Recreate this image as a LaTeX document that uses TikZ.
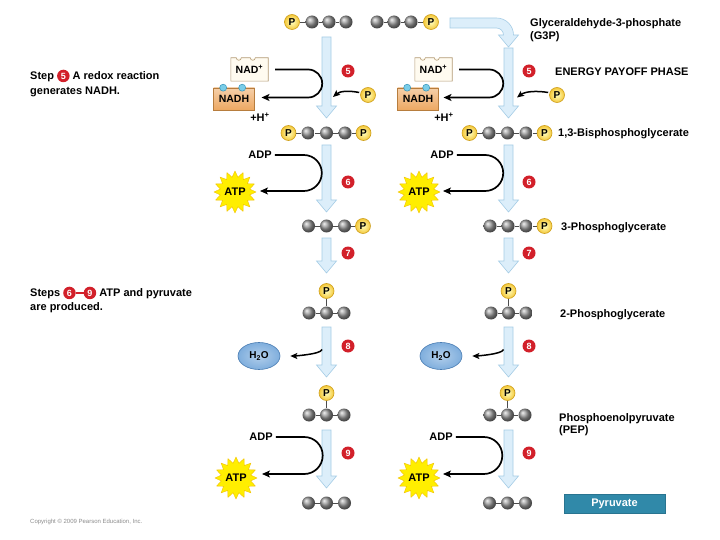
\documentclass[tikz,border=0pt]{standalone}
\usepackage{fontspec}
\setmainfont{Liberation Sans}
\usetikzlibrary{shapes.geometric,arrows.meta,calc}
\definecolor{stepred}{HTML}{D2202A}
\definecolor{arrfill}{HTML}{DCEEFA}
\definecolor{arredge}{HTML}{A6CDE6}
\definecolor{pyellow}{HTML}{F4C83A}
\definecolor{pedge}{HTML}{CFA01C}
\definecolor{nadfill}{HTML}{FFFBF0}
\definecolor{nadline}{HTML}{B39A74}
\definecolor{nadhfill}{HTML}{EDA862}
\definecolor{nadhline}{HTML}{B77D3E}
\definecolor{dotfill}{HTML}{7ACDE8}
\definecolor{dotline}{HTML}{3795BA}
\definecolor{h2ofill}{HTML}{7FAEDD}
\definecolor{h2oline}{HTML}{4A7DB3}
\definecolor{pyrfill}{HTML}{3089A9}
\definecolor{starfill}{HTML}{FFEE00}
\definecolor{starline}{HTML}{F2C200}
\newcommand\fsz[1]{\fontsize{#1}{#1}\selectfont\bfseries}
\newcommand\stepc[1]{\tikz[baseline=(sc.base)]\node[circle,fill=stepred,inner sep=0pt,minimum size=12.5pt,text=white,font=\fsz{9}] (sc) {#1};}
\tikzset{
  cball/.style={circle,inner sep=0pt,minimum size=13pt,ball color=black!40},
  phos/.style={circle,inner sep=0pt,minimum size=15pt,draw=pedge,line width=0.6pt,inner color=yellow!25!white,outer color=pyellow,font=\fsz{10}},
  bond/.style={draw=black!70,line width=0.8pt},
  stepnum/.style={circle,fill=stepred,inner sep=0pt,minimum size=13pt,text=white,font=\fsz{9}},
  lbl/.style={inner sep=0pt,font=\fsz{11}},
  rxn/.style={line width=1.7pt,-{Stealth[length=8pt,width=7pt,inset=2pt]}},
  side/.style={line width=1.5pt,-{Stealth[length=7pt,width=6pt,inset=1.5pt]}},
  nadbox/.style={rectangle,minimum width=37pt,minimum height=23pt,inner sep=0pt,fill=nadfill,font=\fsz{10.5}},
  nadhbox/.style={rectangle,minimum width=41pt,minimum height=22pt,inner sep=0pt,draw=nadhline,line width=0.6pt,top color=nadhfill!55!white,bottom color=nadhfill,font=\fsz{10.5}},
  nadhdot/.style={circle,inner sep=0pt,minimum size=7pt,draw=dotline,fill=dotfill,line width=0.5pt},
  atpstar/.style={star,star points=16,star point ratio=1.4,minimum size=35pt,inner sep=0pt,fill=starfill,draw=starline,line width=0.4pt,font=\fsz{11}},
  h2o/.style={ellipse,minimum width=42pt,minimum height=27pt,inner sep=0pt,draw=h2oline,line width=0.6pt,inner color=h2ofill!60!white,outer color=h2ofill,font=\fsz{10}},
  bigarrow/.style={fill=arrfill,draw=arredge,line width=0.6pt},
}
\newcommand\bigarr[2]{\path[bigarrow] ($(#1)+(-4.5,0)$) -- ($(#2)+(-4.5,-12)$) -- ($(#2)+(-10,-12)$) -- (#2) -- ($(#2)+(10,-12)$) -- ($(#2)+(4.5,-12)$) -- ($(#1)+(4.5,0)$) -- cycle;}
\newcommand\nadoutline[1]{\draw[nadline,line width=0.6pt] (#1.south west) -- (#1.north west) -- ($(#1.north west)+(5.5,0)$) arc[start angle=180,end angle=360,radius=2.5pt] -- ($(#1.north west)+(19.5,0)$) arc[start angle=180,end angle=360,radius=2.5pt] -- (#1.north east) -- (#1.south east) -- cycle;}
% molecules
\newcommand\molPBBBP[3]{%
  \node[phos] (#1a) at (#2-38,#3) {P};
  \node[cball] (#1b) at (#2-18.5,#3) {};
  \node[cball] (#1c) at (#2,#3) {};
  \node[cball] (#1d) at (#2+18.5,#3) {};
  \node[phos] (#1e) at (#2+37,#3) {P};
  \draw[bond] (#1a) -- (#1b) -- (#1c) -- (#1d) -- (#1e);}
\newcommand\molBBBP[3]{%
  \node[cball] (#1b) at (#2-18,#3) {};
  \node[cball] (#1c) at (#2,#3) {};
  \node[cball] (#1d) at (#2+18,#3) {};
  \node[phos] (#1e) at (#2+36.5,#3) {P};
  \draw[bond] (#1b) -- (#1c) -- (#1d) -- (#1e);}
\newcommand\molTP[3]{%
  \node[phos] (#1a) at (#2,#3) {P};
  \node[cball] (#1b) at (#2-17.5,#3+22) {};
  \node[cball] (#1c) at (#2,#3+22) {};
  \node[cball] (#1d) at (#2+17.5,#3+22) {};
  \draw[bond] (#1a) -- (#1c);
  \draw[bond] (#1b) -- (#1c) -- (#1d);}
\newcommand\molBBB[3]{%
  \node[cball] (#1b) at (#2-18,#3) {};
  \node[cball] (#1c) at (#2,#3) {};
  \node[cball] (#1d) at (#2+18,#3) {};
  \draw[bond] (#1b) -- (#1c) -- (#1d);}
\begin{document}
\begin{tikzpicture}[x=1pt,y=-1pt]
\useasboundingbox (0,0) rectangle (720,540);
\fill[white] (0,0) rectangle (720,540);

% ---------- big process arrows ----------
\foreach \c/\xc in {L/326.5,R/508.5}{
  \coordinate (a6\c s) at (\xc,145); \coordinate (a6\c t) at (\xc,212);
  \coordinate (a7\c s) at (\xc,238); \coordinate (a7\c t) at (\xc,273);
  \coordinate (a8\c s) at (\xc,327); \coordinate (a8\c t) at (\xc,377);
  \coordinate (a9\c s) at (\xc,430); \coordinate (a9\c t) at (\xc,488);
}
\coordinate (a5Ls) at (326.5,37); \coordinate (a5Lt) at (326.5,118);
\coordinate (a5Rs) at (508.5,48); \coordinate (a5Rt) at (508.5,118);
\bigarr{a5Ls}{a5Lt} \bigarr{a5Rs}{a5Rt}
\bigarr{a6Ls}{a6Lt} \bigarr{a6Rs}{a6Rt}
\bigarr{a7Ls}{a7Lt} \bigarr{a7Rs}{a7Rt}
\bigarr{a8Ls}{a8Lt} \bigarr{a8Rs}{a8Rt}
\bigarr{a9Ls}{a9Lt} \bigarr{a9Rs}{a9Rt}
% bent arrow from G3P
\path[bigarrow] (450,18) -- (496.5,18) arc[start angle=90,end angle=0,radius=17pt] -- (518.5,35) -- (508.5,47) -- (498.5,35) -- (503.5,35) arc[start angle=0,end angle=90,radius=7pt] -- (450,28) -- cycle;

% ---------- molecules ----------
\node[phos] (g0La) at (292,22) {P};
\node[cball] (g0Lb) at (312,22) {};
\node[cball] (g0Lc) at (329,22) {};
\node[cball] (g0Ld) at (346,22) {};
\draw[bond] (g0La) -- (g0Lb) -- (g0Lc) -- (g0Ld);
\node[cball] (g0Rb) at (377,22) {};
\node[cball] (g0Rc) at (394,22) {};
\node[cball] (g0Rd) at (411,22) {};
\node[phos] (g0Re) at (431,22) {P};
\draw[bond] (g0Rb) -- (g0Rc) -- (g0Rd) -- (g0Re);

\molPBBBP{r1L}{326.5}{133}
\molPBBBP{r1R}{507.5}{133}
\molBBBP{r2L}{326.5}{226}
\molBBBP{r2R}{508}{226}
\molTP{r3L}{326.5}{291}
\molTP{r3R}{508.5}{291}
\molTP{r4L}{326.5}{393}
\molTP{r4R}{507.5}{393}
\molBBB{r5L}{326.5}{503}
\molBBB{r5R}{507.5}{503}

% ---------- step numbers ----------
\node[stepnum] (s5L) at (348,71) {5};
\node[stepnum] (s5R) at (529,71) {5};
\node[stepnum] (s6L) at (348,182) {6};
\node[stepnum] (s6R) at (529,182) {6};
\node[stepnum] (s7L) at (348,253) {7};
\node[stepnum] (s7R) at (529,253) {7};
\node[stepnum] (s8L) at (348,346) {8};
\node[stepnum] (s8R) at (529,346) {8};
\node[stepnum] (s9L) at (348,453) {9};
\node[stepnum] (s9R) at (529,453) {9};

% ---------- step 5: NAD+ -> NADH ----------
\node[nadbox] (nad5L) at (249.5,69.5) {NAD\textsuperscript{+}};
\nadoutline{nad5L}
\node[nadbox] (nad5R) at (433.5,69.5) {NAD\textsuperscript{+}};
\nadoutline{nad5R}
\node[nadhbox] (nadh5L) at (234,99) {NADH};
\node[nadhbox] (nadh5R) at (418,99) {NADH};
\node[nadhdot] (d1L) at ($(nadh5L.north west)+(10,0)$) {};
\node[nadhdot] (d2L) at ($(nadh5L.north west)+(29,0)$) {};
\node[nadhdot] (d1R) at ($(nadh5R.north west)+(10,0)$) {};
\node[nadhdot] (d2R) at ($(nadh5R.north west)+(29,0)$) {};
\node[lbl] (hpL) at (260,117) {+H\textsuperscript{+}};
\node[lbl] (hpR) at (444,117) {+H\textsuperscript{+}};
\draw[rxn,shorten >=27.5pt] ([xshift=7pt]nad5L.east) -- ++(33,0) arc[start angle=90,end angle=-90,radius=14pt] coordinate (ae5L) -- (nadh5L.center |- ae5L);
\draw[rxn,shorten >=25.5pt] ([xshift=7pt]nad5R.east) -- ++(30,0) arc[start angle=90,end angle=-90,radius=14pt] coordinate (ae5R) -- (nadh5R.center |- ae5R);
\node[phos] (p5L) at (368,95) {P};
\node[phos] (p5R) at (557,95) {P};
\coordinate (t5L) at (333,97);
\coordinate (t5R) at (517,97.5);
\draw[side] ([xshift=-1pt,yshift=2.5pt]p5L.west) .. controls +(-10,-2) and +(7,-6) .. (t5L);
\draw[side] ([xshift=-1pt,yshift=2.5pt]p5R.west) .. controls +(-12,-2) and +(8,-6) .. (t5R);

% ---------- step 6 and 9: ADP -> ATP ----------
\node[lbl] (adp6L) at (260,155) {ADP};
\node[lbl] (adp6R) at (442,155) {ADP};
\node[atpstar] (atp6L) at (235,192) {ATP};
\node[atpstar] (atp6R) at (419,192) {ATP};
\draw[rxn,shorten >=25pt] ([xshift=3pt]adp6L.east) -- ++(29,0) arc[start angle=90,end angle=-90,radius=18pt] coordinate (ae6L) -- (atp6L.center |- ae6L);
\draw[rxn,shorten >=24pt] ([xshift=3pt]adp6R.east) -- ++(28.4,0) arc[start angle=90,end angle=-90,radius=18pt] coordinate (ae6R) -- (atp6R.center |- ae6R);
\node[lbl] (adp9L) at (261,437) {ADP};
\node[lbl] (adp9R) at (441,437) {ADP};
\node[atpstar] (atp9L) at (236,478) {ATP};
\node[atpstar] (atp9R) at (419,478) {ATP};
\draw[rxn,shorten >=26pt] ([xshift=3pt]adp9L.east) -- ++(28.4,0) arc[start angle=90,end angle=-90,radius=18.5pt] coordinate (ae9L) -- (atp9L.center |- ae9L);
\draw[rxn,shorten >=24pt] ([xshift=3pt]adp9R.east) -- ++(28,0) arc[start angle=90,end angle=-90,radius=18.5pt] coordinate (ae9R) -- (atp9R.center |- ae9R);

% ---------- step 8: water ----------
\node[h2o] (h2oL) at (259,356) {H\textsubscript{2}O};
\node[h2o] (h2oR) at (441,356) {H\textsubscript{2}O};
\coordinate (c8L) at (322,349.5);
\coordinate (c8R) at (503.5,349.5);
\draw[side,shorten >=10pt] (c8L) .. controls +(-1,5) and +(12,0) .. (h2oL.east);
\draw[side,shorten >=10pt] (c8R) .. controls +(-1,5) and +(12,0) .. (h2oR.east);

% ---------- labels ----------
\node[lbl,anchor=north west,align=left,font=\fontsize{11}{12.5}\selectfont\bfseries] (g3plbl) at (530,18.5) {Glyceraldehyde-3-phosphate\\(G3P)};
\node[lbl,anchor=base west] (epp) at (555,76) {ENERGY PAYOFF PHASE};
\node[lbl,anchor=base west] (bpglbl) at (558,137) {1,3-Bisphosphoglycerate};
\node[lbl,anchor=base west] (pg3lbl) at (561,230) {3-Phosphoglycerate};
\node[lbl,anchor=base west] (pg2lbl) at (560,317) {2-Phosphoglycerate};
\node[lbl,anchor=north west,align=left,font=\fontsize{11}{12.5}\selectfont\bfseries] (peplbl) at (559,413) {Phosphoenolpyruvate\\(PEP)};
\node[lbl,anchor=north west,align=left,font=\fontsize{11}{15}\selectfont\bfseries] (st5) at (30,69.5) {Step \stepc{5} A redox reaction\\generates NADH.};
\node[lbl,anchor=north west,align=left,font=\fontsize{11}{14}\selectfont\bfseries] (st69) at (30,286.5) {Steps \stepc{6}\textcolor{stepred}{\rule[2.5pt]{8pt}{2pt}}\stepc{9} ATP and pyruvate\\are produced.};
\node[minimum width=101pt,minimum height=19pt,inner sep=0pt,fill=pyrfill,draw=pyrfill!85!black,line width=0.5pt,text=white,font=\fsz{11}] (pyr) at (614.5,503.5) {Pyruvate};
\node[anchor=base west,inner sep=0pt,font=\fontsize{6}{6}\selectfont,text=black!45] (copy) at (30,523.5) {Copyright \textcopyright{} 2009 Pearson Education, Inc.};
\end{tikzpicture}
\end{document}
